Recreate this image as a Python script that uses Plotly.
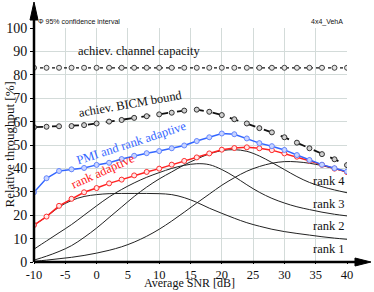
import plotly.graph_objects as go

snr = list(range(-10, 41, 2))
capacity = [83.0] * len(snr)
bicm = [57.6, 57.8, 58.0, 58.1, 58.5, 59.2, 60.0, 60.7, 61.6, 62.3, 63.1, 63.8, 64.7, 65.1, 64.2, 62.8, 61.0, 59.2, 57.2, 55.4, 53.3, 51.0, 48.6, 46.1, 43.9, 41.4]
pmi_rank = [29.8, 35.8, 38.9, 39.6, 40.2, 41.5, 42.4, 44.0, 45.4, 46.5, 47.4, 48.6, 49.8, 51.7, 53.3, 54.9, 54.6, 52.8, 50.8, 49.5, 47.9, 45.7, 43.6, 41.6, 40.1, 38.7]
rank_adapt = [15.8, 19.4, 24.0, 27.0, 29.8, 31.6, 33.6, 35.2, 37.0, 38.5, 39.9, 41.6, 43.2, 44.7, 46.4, 48.0, 48.7, 49.0, 48.6, 47.8, 46.4, 45.0, 43.3, 41.5, 39.9, 38.4]
rank1 = [15.8, 19.4, 23.5, 26.3, 28.0, 28.8, 29.2, 29.3, 29.3, 29.3, 29.2, 28.8, 27.5, 25.5, 23.0, 20.8, 18.7, 16.8, 15.3, 14.0, 13.0, 12.2, 11.5, 10.8, 10.2, 9.7]
rank2 = [5.5, 9.0, 12.5, 16.0, 20.0, 24.0, 27.8, 31.0, 33.8, 36.2, 38.2, 40.0, 41.3, 42.0, 41.6, 39.5, 36.5, 33.0, 29.8, 27.2, 25.2, 23.6, 22.4, 21.3, 20.4, 19.7]
rank3 = [0.8, 2.5, 4.5, 7.0, 10.5, 14.5, 19.0, 23.5, 28.0, 32.0, 35.5, 38.5, 41.5, 44.0, 46.2, 47.6, 48.0, 47.3, 45.3, 42.5, 39.5, 36.5, 34.0, 32.2, 30.8, 29.6]
rank4 = [0.3, 0.8, 1.4, 2.0, 2.8, 3.8, 5.0, 6.5, 8.5, 11.0, 14.0, 17.5, 21.3, 25.2, 29.0, 32.8, 36.0, 38.8, 40.8, 42.2, 42.9, 42.8, 42.2, 41.2, 39.9, 38.4]
rank_names = ["rank 1", "rank 2", "rank 3", "rank 4"]
rank_label_y = [5.4, 15.4, 24.7, 34.6]
x_ticks = list(range(-10, 41, 5))
y_ticks = list(range(0, 101, 10))

SERIF = "Times New Roman, Liberation Serif, DejaVu Serif, serif"
SANS = "Arial, Liberation Sans, sans-serif"
fig = go.Figure()

for r in [rank1, rank2, rank3, rank4]:
    fig.add_trace(go.Scatter(x=snr, y=r, mode="lines", line=dict(color="#222", width=1, shape="spline"),
                             hoverinfo="skip", showlegend=False))

def series(y, color, dash, width, fill, outline, size=5):
    fig.add_trace(go.Scatter(
        x=snr, y=y, mode="lines+markers",
        line=dict(color=color, width=width, dash=dash),
        marker=dict(symbol="circle", size=size, color=fill, line=dict(color=outline, width=1)),
        error_y=dict(type="constant", value=1.0, width=0, thickness=1, color="#444"),
        showlegend=False))

series(capacity, "#111", "dot", 1.3, "#e4e4e4", "#444")
series(bicm, "#111", "dash", 1.8, "#d0d0d0", "#333")
series(rank_adapt, "#ff2020", "solid", 1.5, "#ffe8e8", "#ff3030")
series(pmi_rank, "#3366ff", "solid", 1.5, "#c8d4ff", "#6688ff")

ML, MR, MT, MB = 33.5, 27, 28, 30
W, H = 374, 292
PW, PH = W - ML - MR, H - MT - MB

ann = []
ann.append(dict(x=6.8, y=90.2, text="achiev. channel capacity", showarrow=False,
                font=dict(family=SERIF, size=12.5, color="#111")))
ann.append(dict(x=5.4, y=67.4, text="achiev. BICM bound", showarrow=False, textangle=-10,
                font=dict(family=SERIF, size=12.5, color="#111")))
ann.append(dict(x=5.6, y=51.0, text="PMI and rank adaptive", showarrow=False, textangle=-18,
                font=dict(family=SERIF, size=12.5, color="#3366ff")))
ann.append(dict(x=1.1, y=38.8, text="rank adaptive", showarrow=False, textangle=-24,
                font=dict(family=SERIF, size=12.5, color="#ff2020")))
for name, yy in zip(rank_names, rank_label_y):
    ann.append(dict(x=37.1, y=yy, text=name, showarrow=False,
                    font=dict(family=SERIF, size=12.5, color="#111")))
ann.append(dict(xref="paper", yref="paper", x=2 / PW, y=1 + 6.3 / PH, xanchor="left", yanchor="middle",
                text="Φ 95% confidence interval", showarrow=False,
                font=dict(family=SANS, size=7, color="#111")))
ann.append(dict(xref="paper", yref="paper", x=1 - 2 / PW, y=1 + 6.3 / PH, xanchor="right", yanchor="middle",
                text="4x4_VehA", showarrow=False,
                font=dict(family=SANS, size=7, color="#111")))
# axis titles
ann.append(dict(xref="paper", yref="paper", x=(189 - ML) / PW, y=-(292 - (H - MB)) / PH,
                xanchor="center", yanchor="bottom", text="Average SNR [dB]", showarrow=False,
                font=dict(family=SERIF, size=12, color="#111")))
ann.append(dict(xref="paper", yref="paper", x=(8 - ML) / PW, y=0.5,
                xanchor="center", yanchor="middle", text="Relative throughput [%]", showarrow=False,
                textangle=-90, font=dict(family=SERIF, size=13, color="#111")))

def px(dx):
    return dx / PW
def py(dy):
    return dy / PH
shapes = [
    dict(type="line", xref="paper", yref="paper", x0=0, x1=1 + px(14), y0=0, y1=0,
         line=dict(color="#000", width=2.5), layer="above"),
    dict(type="line", xref="paper", yref="paper", x0=0, x1=0, y0=0, y1=1 + py(14),
         line=dict(color="#000", width=2.5), layer="above"),
    dict(type="path", xref="paper", yref="paper",
         path=f"M {1 + px(8)} {py(4)} L {1 + px(24)} 0 L {1 + px(8)} {-py(4)} Z",
         fillcolor="#000", line=dict(color="#000", width=1), layer="above"),
    dict(type="path", xref="paper", yref="paper",
         path=f"M {-px(4)} {1 + py(8)} L 0 {1 + py(26)} L {px(4)} {1 + py(8)} Z",
         fillcolor="#000", line=dict(color="#000", width=1), layer="above"),
]

fig.update_layout(
    width=W, height=H,
    margin=dict(l=ML, r=MR, t=MT, b=MB, autoexpand=False),
    plot_bgcolor="white", paper_bgcolor="white",
    annotations=ann, shapes=shapes,
    font=dict(family=SERIF, color="#111"),
)
fig.update_xaxes(range=[-10, 40], tickvals=x_ticks, ticktext=[str(v) for v in x_ticks],
                 showgrid=True, gridcolor="#d3dbd9", gridwidth=1, zeroline=False, showline=False,
                 ticks="outside", ticklen=1, tickcolor="#000", tickfont=dict(family=SERIF, size=12.5),
                 automargin=False)
fig.update_yaxes(range=[0, 100], tickvals=y_ticks, ticktext=[str(v) for v in y_ticks],
                 showgrid=True, gridcolor="#d3dbd9", gridwidth=1, zeroline=False, showline=False,
                 ticks="outside", ticklen=3, tickcolor="#000", tickfont=dict(family=SERIF, size=14),
                 automargin=False)

fig.write_html("out.html", config={"displayModeBar": False},
               post_script="document.body.style.margin='0';")
